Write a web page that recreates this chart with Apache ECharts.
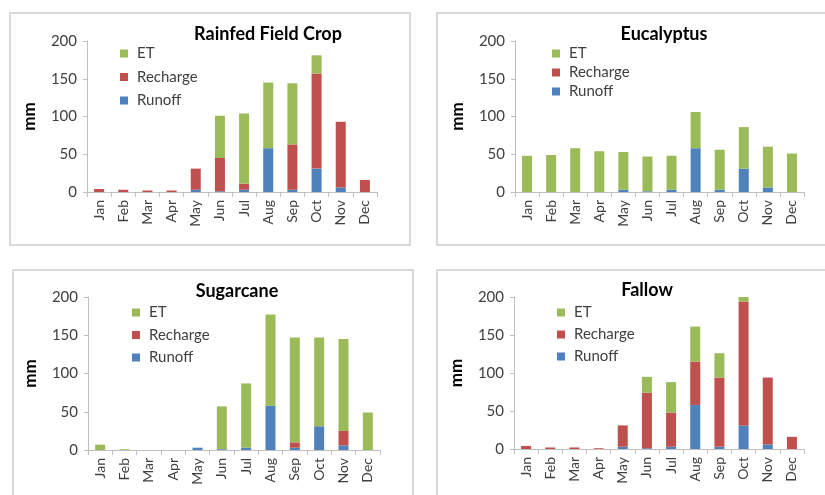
<!DOCTYPE html>
<html><head><meta charset="utf-8">
<script src="https://cdn.jsdelivr.net/npm/echarts@6/dist/echarts.min.js"></script>
<style>html,body{margin:0;padding:0;background:#fff}#c{width:825px;height:495px}</style>
</head><body><div id="c"></div>
<script>
const months = ['Jan','Feb','Mar','Apr','May','Jun','Jul','Aug','Sep','Oct','Nov','Dec'];
const panelTitles = ['Rainfed Field Crop','Eucalyptus','Sugarcane','Fallow'];
const yTicks = [0, 50, 100, 150, 200];

// Runoff / Recharge / ET (mm) per land use
const rainfedRunoff   = [0, 0, 0, 0, 3, 1, 3, 58, 3, 31, 6, 0];
const rainfedRecharge = [4, 3, 2, 2, 28, 44, 8, 0, 60, 126, 87, 16];
const rainfedET       = [0, 0, 0, 0, 0, 56, 93, 87, 81, 24, 0, 0];

const eucRunoff   = [0, 0, 0, 0, 3, 1, 3, 58, 3, 31, 6, 0];
const eucRecharge = [0, 0, 0, 0, 0, 0, 0, 0, 0, 0, 0, 0];
const eucET       = [48, 49, 58, 54, 50, 46, 45, 48, 53, 55, 54, 51];

const sugRunoff   = [0, 0, 0, 0, 3, 1, 3, 58, 3, 31, 6, 0];
const sugRecharge = [0, 0, 0, 0, 0, 0, 0, 0, 7, 0, 19, 0];
const sugET       = [7, 1, 0, 0, 0, 56, 84, 119, 137, 116, 120, 49];

const falRunoff   = [0, 0, 0, 0, 3, 1, 3, 58, 3, 31, 6, 0];
const falRecharge = [4, 2, 2, 1, 28, 73, 45, 57, 91, 163, 88, 16];
const falET       = [0, 0, 0, 0, 0, 21, 40, 46, 32, 6, 0, 0];

const panelData = [
  [rainfedRunoff, rainfedRecharge, rainfedET],
  [eucRunoff, eucRecharge, eucET],
  [sugRunoff, sugRecharge, sugET],
  [falRunoff, falRecharge, falET]
];

const COL = {ET:'#9BBB59', Recharge:'#C0504D', Runoff:'#4F81BD'};
const FONT = 'Lato';

const grids = [
  {left:87, top:41, width:290, height:151},
  {left:515, top:41, width:289, height:151},
  {left:88, top:297, width:292, height:153},
  {left:514, top:297, width:290, height:152}
];
const titlePos = [{x:263,y:20},{x:659,y:20},{x:232,y:277},{x:642,y:276}];
const legendPos = [{x:115,y:41,gap:8.5},{x:547,y:41,gap:4},{x:127,y:300,gap:7.5},{x:552,y:300,gap:7}];
const borders = [
  {x:10,y:13,w:400,h:232},
  {x:437,y:13,w:400,h:232},
  {x:13,y:270,w:400,h:240},
  {x:437,y:270,w:400,h:240}
];

const option = {
  animation:false,
  textStyle:{fontFamily:FONT},
  title: panelTitles.map((t,i)=>({
    text:t, left:titlePos[i].x, top:titlePos[i].y, textAlign:'center',
    textStyle:{fontFamily:FONT,fontSize:18,fontWeight:'bold',color:'#000'}
  })),
  legend: legendPos.map((p,i)=>({
    data:['ET','Recharge','Runoff'], orient:'vertical', left:p.x, top:p.y,
    itemWidth:8, itemHeight:8, itemGap:p.gap, icon:'rect', selectedMode:false,
    textStyle:{fontFamily:FONT,fontSize:15,color:'#404040',padding:[0,0,0,4]}
  })),
  grid: grids,
  xAxis: grids.map((g,i)=>({
    type:'category', gridIndex:i, data:months,
    axisLine:{lineStyle:{color:'#bfbfbf'}},
    axisTick:{show:true,length:5,lineStyle:{color:'#bfbfbf'}},
    axisLabel:{rotate:90,fontFamily:FONT,fontSize:14,color:'#404040',margin:8}
  })),
  yAxis: grids.map((g,i)=>({
    type:'value', gridIndex:i, min:yTicks[0], max:yTicks[yTicks.length-1], interval:yTicks[1]-yTicks[0],
    name:'mm', nameLocation:'middle', nameRotate:90, nameGap:49,
    nameTextStyle:{fontFamily:FONT,fontSize:17,fontWeight:'bold',color:'#000'},
    axisLine:{show:true,lineStyle:{color:'#bfbfbf'}},
    axisTick:{show:true,length:4,lineStyle:{color:'#bfbfbf'}},
    splitLine:{show:false},
    axisLabel:{fontFamily:FONT,fontSize:15,color:'#404040',margin:10}
  })),
  series: [],
  graphic: borders.map(b=>({
    type:'rect', shape:{x:b.x,y:b.y,width:b.w,height:b.h}, silent:true, z:-1,
    style:{fill:'none',stroke:'#d9d9d9',lineWidth:2}
  }))
};

panelData.forEach((d,i)=>{
  const names = ['Runoff','Recharge','ET'];
  names.forEach((n,k)=>{
    option.series.push({
      type:'bar', name:n, xAxisIndex:i, yAxisIndex:i, stack:'s'+i,
      data:d[k], barWidth:10, itemStyle:{color:COL[n]}
    });
  });
});

echarts.init(document.getElementById('c')).setOption(option);
</script>
</body></html>
